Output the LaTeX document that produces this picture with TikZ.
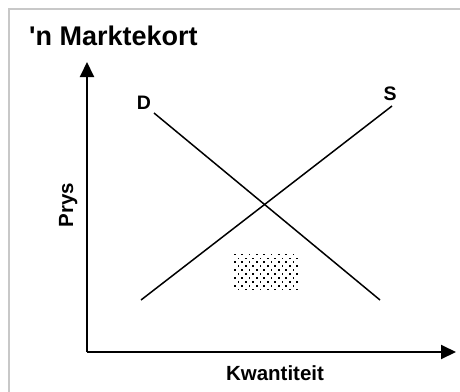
\documentclass[tikz,border=0pt]{standalone}
\usepackage{fontspec}
\setmainfont{Liberation Sans}
\usetikzlibrary{arrows.meta}
\begin{document}
\begin{tikzpicture}[x=1pt,y=-1pt,
  axis/.style={line width=2pt,-{Triangle[length=15pt,width=14pt]}},
  curve/.style={line width=1.5pt},
  lbl/.style={font=\bfseries\fontsize{19.5}{19.5}\selectfont,inner sep=0pt},
  axlbl/.style={font=\bfseries\fontsize{20.5}{20.5}\selectfont,inner sep=0pt},
  dotbox/.style={fill=black}]
\useasboundingbox (0,0) rectangle (460,391);
\draw[line width=2pt,color={rgb,255:red,200;green,200;blue,200}] (9,395) -- (9,9) -- (465,9);
\node[anchor=base west,inner sep=0pt,font=\bfseries\fontsize{27}{27}\selectfont] (title) at (29,45) {\textquotesingle n Marktekort};
\coordinate (O) at (87,352);
\coordinate (ytop) at (87,62);
\coordinate (xend) at (456,352);
\draw[axis] (O) -- (ytop);
\draw[axis] (O) -- (xend);
\coordinate (d1) at (154,113);
\coordinate (d2) at (380,300);
\coordinate (s1) at (141,300);
\coordinate (s2) at (392,106);
\draw[curve] (d1) -- (d2);
\draw[curve] (s1) -- (s2);
\node[lbl] (D) at (144,103) {D};
\node[lbl] (S) at (390,94) {S};
\node[axlbl,anchor=base] (kw) at (275,380) {Kwantiteit};
\node[axlbl,anchor=base,rotate=90] (prys) at (73,205) {Prys};
\foreach \i in {0,...,9} {
  \foreach \j in {0,...,8} {
    \pgfmathsetmacro{\xx}{235+3.6*mod(\i,2)+7.3*\j}
    \pgfmathsetmacro{\yy}{254.5+3.9*\i}
    \fill[dotbox] (\xx-0.85,\yy-0.85) rectangle (\xx+0.85,\yy+0.85);
  }
}
\end{tikzpicture}
\end{document}
